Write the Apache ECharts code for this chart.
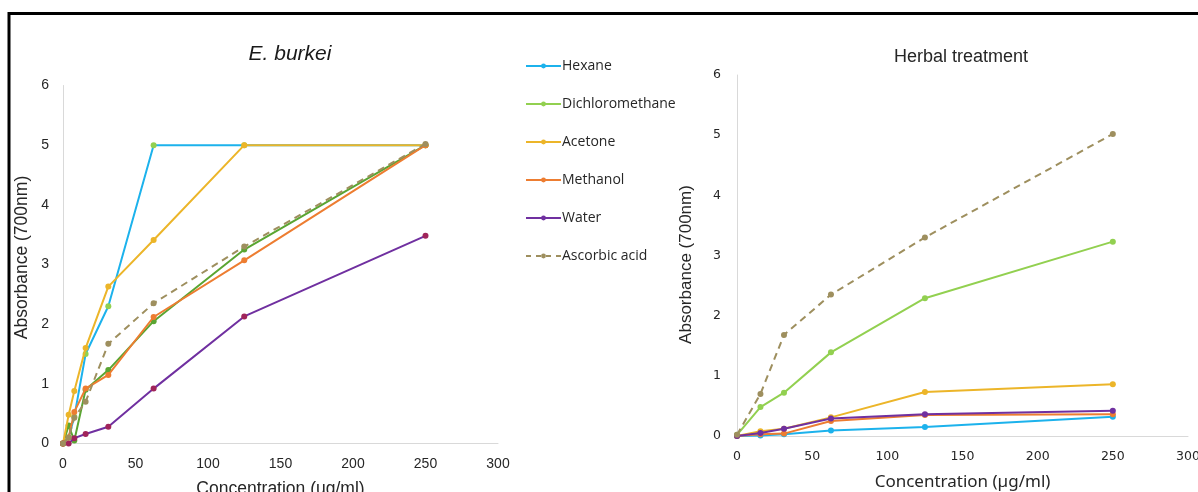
<!DOCTYPE html>
<html>
<head>
<meta charset="utf-8">
<script src="https://cdn.jsdelivr.net/npm/echarts@6/dist/echarts.min.js"></script>
<style>
  html, body { margin: 0; padding: 0; background: #ffffff; }
  #chart { width: 1198px; height: 492px; }
</style>
</head>
<body>
<div id="chart"></div>
<script>
// Extract names, in legend order
const extractNames = ['Hexane', 'Dichloromethane', 'Acetone', 'Methanol', 'Water', 'Ascorbic acid'];

// Concentrations (µg/ml)
const concBurkei = [0, 3.9, 7.8, 15.6, 31.25, 62.5, 125, 250];
const concHerbal = [0, 15.6, 31.25, 62.5, 125, 250];

// E. burkei absorbance at 700 nm
const burkeiHexane = [0, 0.1, 0.45, 1.5, 2.3, 5, 5, 5];
const burkeiDichloromethane = [0, 0.3, 0.05, 0.9, 1.23, 2.05, 3.25, 5];
const burkeiAcetone = [0, 0.48, 0.88, 1.6, 2.63, 3.41, 5, 5];
const burkeiMethanol = [0, 0.1, 0.53, 0.92, 1.15, 2.12, 3.07, 5];
const burkeiWater = [0, 0, 0.09, 0.16, 0.28, 0.92, 2.13, 3.48];
const burkeiAscorbic = [0, 0.1, 0.43, 0.7, 1.67, 2.35, 3.3, 5.02];

// Herbal treatment absorbance at 700 nm
const herbalHexane = [0, 0.01, 0.03, 0.09, 0.15, 0.32];
const herbalDichloromethane = [0.02, 0.48, 0.72, 1.39, 2.29, 3.23];
const herbalAcetone = [0, 0.08, 0.12, 0.31, 0.73, 0.86];
const herbalMethanol = [0, 0.03, 0.04, 0.25, 0.35, 0.36];
const herbalWater = [0, 0.05, 0.12, 0.29, 0.36, 0.42];
const herbalAscorbic = [0.02, 0.7, 1.68, 2.35, 3.3, 5.02];

// Axis tick values
const xTicks = [0, 50, 100, 150, 200, 250, 300];
const yTicks = [0, 1, 2, 3, 4, 5, 6];

const lineColors = ['#1cb2ec', '#92d050', '#ecb529', '#ed7d31', '#7030a0', '#9e8f5e'];
const burkeiLineColors = ['#1cb2ec', '#5aa532', '#ecb529', '#ed7d31', '#7030a0', '#9e8f5e'];
const burkeiMarkerColors = ['#92d050', '#5aa532', '#ecb529', '#ed7d31', '#a0245a', '#9e8f5e'];

const burkeiValues = [burkeiHexane, burkeiDichloromethane, burkeiAcetone, burkeiMethanol, burkeiWater, burkeiAscorbic];
const herbalValues = [herbalHexane, herbalDichloromethane, herbalAcetone, herbalMethanol, herbalWater, herbalAscorbic];

const pairs = (xs, ys) => xs.map((x, i) => [x, ys[i]]);

function makeSeries(values, xs, axisIndex, lineCols, markerCols) {
  return values.map((ys, i) => ({
    name: extractNames[i],
    type: 'line',
    xAxisIndex: axisIndex,
    yAxisIndex: axisIndex,
    data: pairs(xs, ys),
    symbol: 'circle',
    symbolSize: 6,
    showSymbol: true,
    lineStyle: { color: lineCols[i], width: 2, type: i === 5 ? [7, 5] : 'solid' },
    itemStyle: { color: markerCols[i], borderWidth: 0 },
    emphasis: { disabled: true },
    z: 2 + i
  }));
}

const axisGray = '#d9d9d9';

function xAxisCfg(gridIndex, name, labelFont, labelSize, nameFont, nameSize, nameGap, labelMargin) {
  return {
    type: 'value', gridIndex, min: xTicks[0], max: xTicks[xTicks.length - 1], interval: xTicks[1] - xTicks[0],
    name, nameLocation: 'middle', nameGap,
    nameTextStyle: { fontFamily: nameFont, fontSize: nameSize, color: '#262626' },
    axisLine: { show: true, lineStyle: { color: axisGray, width: 1 } },
    axisTick: { show: false }, splitLine: { show: false },
    axisLabel: { fontFamily: labelFont, fontSize: labelSize, color: '#262626', margin: labelMargin }
  };
}

function yAxisCfg(gridIndex, name, labelFont, labelSize, nameFont, nameSize, nameGap, labelMargin, namePadding) {
  return {
    type: 'value', gridIndex, min: yTicks[0], max: yTicks[yTicks.length - 1], interval: yTicks[1] - yTicks[0],
    name, nameLocation: 'middle', nameGap,
    nameTextStyle: { fontFamily: nameFont, fontSize: nameSize, color: '#262626', padding: namePadding },
    axisLine: { show: true, lineStyle: { color: axisGray, width: 1 } },
    axisTick: { show: false }, splitLine: { show: false },
    axisLabel: { fontFamily: labelFont, fontSize: labelSize, color: '#262626', margin: labelMargin }
  };
}

const chart = echarts.init(document.getElementById('chart'), null, { renderer: 'canvas' });

chart.setOption({
  animation: false,
  backgroundColor: '#ffffff',
  title: [
    { text: 'E. burkei', left: 285, top: 39, textAlign: 'center',
      textStyle: { fontFamily: 'Liberation Sans', fontSize: 21, fontStyle: 'italic', fontWeight: 'normal', color: '#1a1a1a' } },
    { text: 'Herbal treatment', left: 956, top: 43, textAlign: 'center',
      textStyle: { fontFamily: 'Liberation Sans', fontSize: 18, fontWeight: 'normal', color: '#262626' } }
  ],
  legend: {
    orient: 'vertical', left: 520, top: 54,
    itemWidth: 35, itemHeight: 6, itemGap: 24,
    textStyle: { fontFamily: 'Open Sans', fontSize: 14, color: '#262626', padding: [0, 0, 0, -4] },
    data: extractNames.map((n, i) => ({
      name: n,
      itemStyle: { color: lineColors[i] },
      lineStyle: { color: lineColors[i], width: 2, type: i === 5 ? [5, 5] : 'solid' }
    })),
    selectedMode: false
  },
  grid: [
    { left: 63, top: 85.5, width: 435, height: 358, outerBoundsMode: 'none' },
    { left: 737, top: 75, width: 451, height: 361, outerBoundsMode: 'none' }
  ],
  xAxis: [
    xAxisCfg(0, 'Concentration (ug/ml)', 'Liberation Sans', 14, 'Liberation Sans', 17.5, 37, 14),
    xAxisCfg(1, 'Concentration (µg/ml)', 'DejaVu Sans', 12.5, 'Noto Sans', 17, 38, 14)
  ],
  yAxis: [
    yAxisCfg(0, 'Absorbance (700nm)', 'Liberation Sans', 14, 'Liberation Sans', 17.5, 32, 14, [0, 0, 0, 14]),
    yAxisCfg(1, 'Absorbance (700nm)', 'DejaVu Sans', 12.5, 'Liberation Sans', 17, 42, 16, [0, 18, 0, 0])
  ],
  graphic: [
    { type: 'rect', shape: { x: 9, y: 13.5, width: 1400, height: 700 },
      style: { fill: 'none', stroke: '#000000', lineWidth: 3 }, silent: true, z: 100 }
  ],
  series: [
    ...makeSeries(burkeiValues, concBurkei, 0, burkeiLineColors, burkeiMarkerColors),
    ...makeSeries(herbalValues, concHerbal, 1, lineColors, lineColors)
  ]
});
</script>
</body>
</html>
